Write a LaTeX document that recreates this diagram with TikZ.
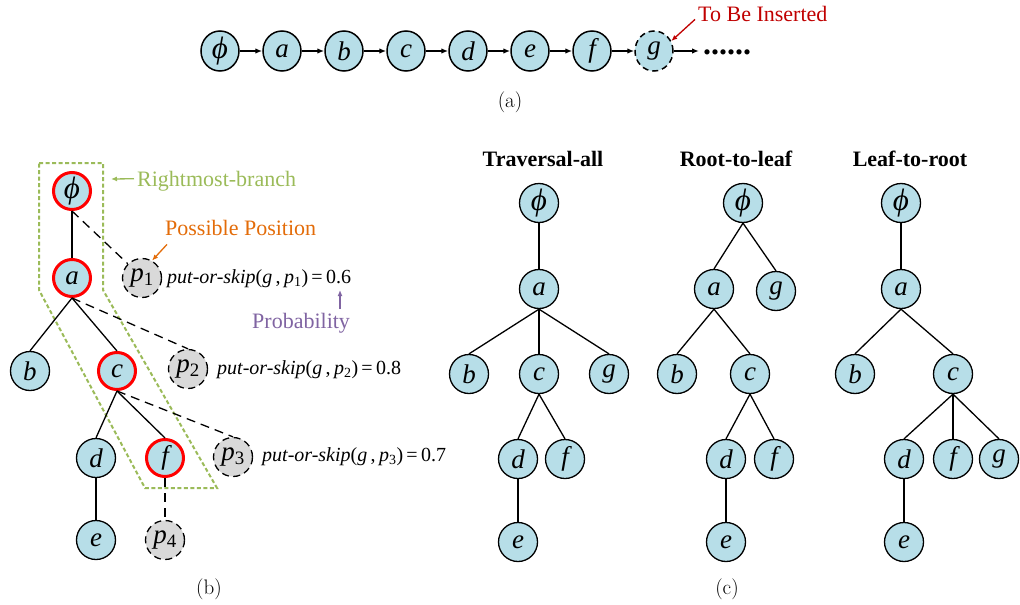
\documentclass[tikz,border=0pt]{standalone}
\usepackage{fontspec}
\newfontfamily\tnr{Liberation Serif}
\usetikzlibrary{shapes.geometric,arrows.meta}
\definecolor{nodeblue}{HTML}{B7DEE8}
\definecolor{posgray}{HTML}{D9D9D9}
\definecolor{brgreen}{HTML}{9BBB59}
\definecolor{ppurple}{HTML}{8064A2}
\definecolor{porange}{HTML}{E36C09}
\definecolor{dred}{HTML}{C00000}
\newcommand{\nodefont}{\tnr\fontsize{27}{30}\selectfont\itshape}
\newcommand{\phisym}{{\fontsize{31}{34}\selectfont ϕ}}
\newcommand{\psub}[1]{p\textsubscript{\upshape #1}}
\begin{document}
\begin{tikzpicture}[x=1pt,y=-1pt,
  vtx/.style={circle,draw=black,fill=nodeblue,line width=1.3pt,minimum size=39pt,inner sep=0pt,font=\nodefont},
  cvtx/.style={ellipse,draw=black,fill=nodeblue,line width=1.5pt,minimum width=38pt,minimum height=40pt,inner sep=0pt,font=\nodefont},
  rvtx/.style={vtx,draw=red,line width=3pt,minimum size=37pt},
  posn/.style={circle,draw=black,fill=posgray,line width=1.3pt,dash pattern=on 7pt off 4.5pt,minimum size=39pt,inner sep=0pt,font=\nodefont},
  lnk/.style={line width=1.3pt},
  dlnk/.style={line width=1.3pt,dash pattern=on 9pt off 6pt},
  chainarr/.style={line width=1.5pt,-{Latex[length=7pt,width=5.5pt]}},
  lblarr/.style={line width=1.3pt,-{Latex[length=6pt,width=5pt]}},
  lbl/.style={inner sep=0pt,anchor=base west,font=\tnr\fontsize{22}{26}\selectfont},
  formula/.style={inner sep=0pt,anchor=base west,font=\tnr\fontsize{20}{24}\selectfont},
  hdr/.style={inner sep=0pt,anchor=base,font=\tnr\fontsize{22}{26}\selectfont\bfseries},
  subcap/.style={inner sep=0pt,anchor=base,font=\fontsize{21}{24}\selectfont},
]
\useasboundingbox (0,0) rectangle (1020,605);

% ---------- (a) chain ----------
\node[cvtx] (t0) at (220,51) {\phisym};
\node[cvtx] (t1) at (282,51) {a};
\node[cvtx] (t2) at (344,51) {b};
\node[cvtx] (t3) at (406,51) {c};
\node[cvtx] (t4) at (468,51) {d};
\node[cvtx] (t5) at (530,51) {e};
\node[cvtx] (t6) at (592,51) {f};
\node[cvtx,dash pattern=on 6pt off 4pt] (t7) at (654,51) {g};
\draw[chainarr] (t0) -- (t1);
\draw[chainarr] (t1) -- (t2);
\draw[chainarr] (t2) -- (t3);
\draw[chainarr] (t3) -- (t4);
\draw[chainarr] (t4) -- (t5);
\draw[chainarr] (t5) -- (t6);
\draw[chainarr] (t6) -- (t7);
\coordinate (tend) at (699,51);
\draw[chainarr] (t7) -- (tend);
\node[inner sep=0pt,anchor=base west,font=\tnr\bfseries\fontsize{32}{32}\selectfont] (dots) at (703,54) {......};
\node[lbl,text=dred] (tbi) at (698,21) {To Be Inserted};
\draw[lblarr,dred] ([xshift=-3pt,yshift=2pt]tbi.south west) -- (t7.30);
\node[subcap] (capa) at (510,107) {(a)};

% ---------- (b) ----------
\draw[brgreen,line width=2pt,dash pattern=on 4pt off 2.5pt] (39,163) -- (103,163) -- (103,290) -- (217,488) -- (145,488) -- (39,290) -- cycle;
\node[rvtx] (bphi) at (72,191) {\phisym};
\node[rvtx] (ba) at (72,278) {a};
\node[vtx] (bb) at (30,371) {b};
\node[rvtx] (bc) at (117,371) {c};
\node[vtx] (bd) at (96,458) {d};
\node[rvtx] (bf) at (165,458) {f};
\node[vtx] (be) at (96,540) {e};
\node[posn] (p1) at (142,278) {\psub{1}};
\node[posn] (p2) at (188,369) {\psub{2}};
\node[posn] (p3) at (233,457) {\psub{3}};
\node[posn] (p4) at (165,540) {\psub{4}};
\draw[lnk] (bphi.south) -- (ba.north);
\draw[lnk] (ba.south) -- (bb.north);
\draw[lnk] (ba.south) -- (bc.north);
\draw[lnk] (bc.south) -- (bd.north);
\draw[lnk] (bc.south) -- (bf.north);
\draw[lnk] (bd.south) -- (be.north);
\draw[dlnk] (bphi.south) -- (p1.north west);
\draw[dlnk] (ba.south) -- (p2.north);
\draw[dlnk] (bc.south) -- (p3.north);
\draw[dlnk] (bf.south) -- (p4.north);

\node[lbl,text=brgreen] (rmb) at (137,186) {Rightmost-branch};
\coordinate (rmbtip) at (111,179);
\draw[lblarr,brgreen] ([xshift=-3pt,yshift=2pt]rmb.west) -- (rmbtip);
\node[lbl,text=porange] (ppos) at (165,235) {Possible Position};
\draw[lblarr,porange] ([xshift=2pt,yshift=-9pt]ppos.south west) -- (p1.60);
\node[formula] (f1) at (167,283) {\textit{put-or-skip}(\textit{g}\,,\,\textit{\psub{1}})\,=\,0.6};
\node[formula] (f2) at (217,374) {\textit{put-or-skip}(\textit{g}\,,\,\textit{\psub{2}})\,=\,0.8};
\node[formula] (f3) at (262,461) {\textit{put-or-skip}(\textit{g}\,,\,\textit{\psub{3}})\,=\,0.7};
\node[lbl,text=ppurple] (prob) at (252,328) {Probability};
\coordinate (probbase) at (340,309);
\coordinate (probtip) at (340,290);
\draw[lblarr,ppurple] (probbase) -- (probtip);
\node[subcap] (capb) at (209,594) {(b)};

% ---------- (c) ----------
\node[hdr] (h1) at (543,166) {Traversal-all};
\node[hdr] (h2) at (736,166) {Root-to-leaf};
\node[hdr] (h3) at (910,166) {Leaf-to-root};

% Traversal-all
\node[vtx] (T0) at (539,203) {\phisym};
\node[vtx] (Ta) at (539,289) {a};
\node[vtx] (Tb) at (469,374) {b};
\node[vtx] (Tc) at (539,374) {c};
\node[vtx] (Tg) at (609,374) {g};
\node[vtx] (Td) at (518,459) {d};
\node[vtx] (Tf) at (565,459) {f};
\node[vtx] (Te) at (518,542) {e};
\draw[lnk] (T0.south) -- (Ta.north);
\draw[lnk] (Ta.south) -- (Tb.north);
\draw[lnk] (Ta.south) -- (Tc.north);
\draw[lnk] (Ta.south) -- (Tg.north);
\draw[lnk] (Tc.south) -- (Td.north);
\draw[lnk] (Tc.south) -- (Tf.north);
\draw[lnk] (Td.south) -- (Te.north);

% Root-to-leaf
\node[vtx] (R0) at (743,203) {\phisym};
\node[vtx] (Ra) at (714,289) {a};
\node[vtx] (Rg) at (776,291) {g};
\node[vtx] (Rb) at (677,374) {b};
\node[vtx] (Rc) at (750,374) {c};
\node[vtx] (Rd) at (726,459) {d};
\node[vtx] (Rf) at (774,459) {f};
\node[vtx] (Re) at (726,542) {e};
\draw[lnk] (R0.south) -- (Ra.north);
\draw[lnk] (R0.south) -- (Rg.north);
\draw[lnk] (Ra.south) -- (Rb.north);
\draw[lnk] (Ra.south) -- (Rc.north);
\draw[lnk] (Rc.south) -- (Rd.north);
\draw[lnk] (Rc.south) -- (Rf.north);
\draw[lnk] (Rd.south) -- (Re.north);

% Leaf-to-root
\node[vtx] (L0) at (901,203) {\phisym};
\node[vtx] (La) at (901,289) {a};
\node[vtx] (Lb) at (855,374) {b};
\node[vtx] (Lc) at (953,374) {c};
\node[vtx] (Ld) at (904,459) {d};
\node[vtx] (Lf) at (953,459) {f};
\node[vtx] (Lg) at (999,459) {g};
\node[vtx] (Le) at (904,542) {e};
\draw[lnk] (L0.south) -- (La.north);
\draw[lnk] (La.south) -- (Lb.north);
\draw[lnk] (La.south) -- (Lc.north);
\draw[lnk] (Lc.south) -- (Ld.north);
\draw[lnk] (Lc.south) -- (Lf.north);
\draw[lnk] (Lc.south) -- (Lg.north);
\draw[lnk] (Ld.south) -- (Le.north);

\node[subcap] (capc) at (727,594) {(c)};
\end{tikzpicture}
\end{document}
